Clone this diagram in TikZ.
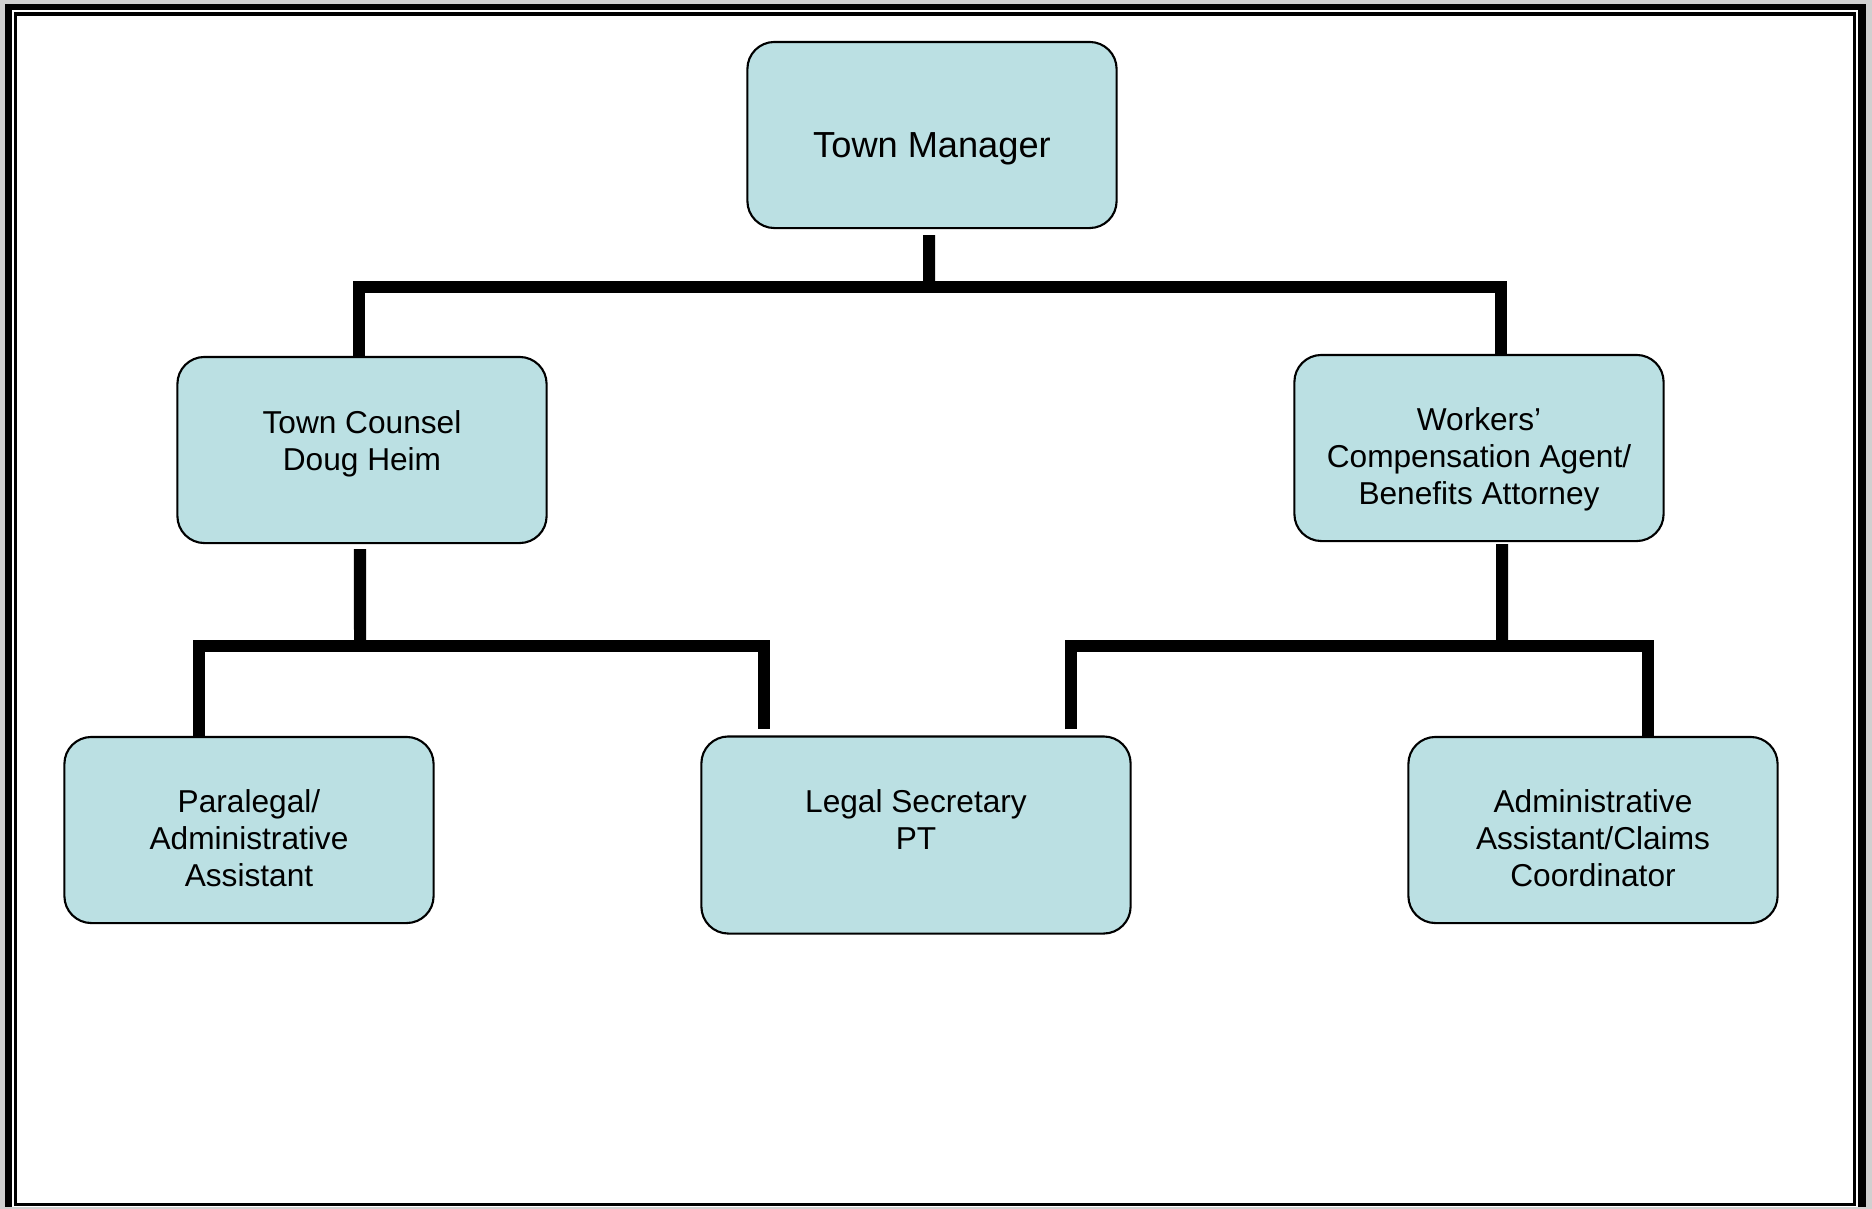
\documentclass[tikz,border=0pt]{standalone}
\usepackage{fontspec}
\setmainfont{Liberation Sans}
\usepackage{xcolor}
\definecolor{boxblue}{RGB}{187,224,227}
\definecolor{framegray}{RGB}{208,208,208}
% lines of a box, lowered a little without changing the box size
\newcommand{\boxlines}[2][0.12cm]{\raisebox{-#1}[\height][\depth]{\begin{tabular}{@{}c@{}}#2\end{tabular}}}

\begin{document}
\begin{tikzpicture}[x=0.01cm, y=-0.01cm]
        % ================= styles =================
        \tikzset{
            box/.style={rectangle, rounded corners=0.27cm, draw=black, line width=0.6pt, fill=boxblue,
                        minimum width=3.69cm, minimum height=1.86cm, inner sep=0pt,
                        font=\fontsize{9}{10.5}\selectfont},
            link/.style={line width=0.12cm, black, line join=miter}
        }
        \useasboundingbox (0,0) rectangle (1872,1209);

        % ================= frame =================
        \fill[framegray] (0,0) rectangle (1872,1209);
        \fill[black] (5,4) rectangle (1866,1207);
        \fill[white] (12,10) rectangle (1858,1207);
        \draw[line width=0.03cm] (15.5,14) rectangle (1854.5,1204.5);
        \fill[framegray] (0,1207) rectangle (1872,1209);

        % ================= boxes =================
        \node[box, font=\fontsize{10.3}{12}\selectfont] (tm) at (932,135) {\boxlines[0.14cm]{Town Manager}};  % top
        \node[box] (tc) at (362,450) {\boxlines[0.13cm]{Town Counsel\\Doug Heim\\\mbox{}}};                 % left
        \node[box] (wc) at (1479,448) {\boxlines{Workers’\\Compensation Agent/\\Benefits Attorney}};      % right
        \node[box] (pl) at (249,830) {\boxlines{Paralegal/\\Administrative\\Assistant}};
        \node[box, minimum width=4.29cm, minimum height=1.97cm] (ls) at (916,835) {\boxlines[0.07cm]{Legal Secretary\\PT\\\mbox{}}};
        \node[box] (aa) at (1593,830) {\boxlines{Administrative\\Assistant/Claims\\Coordinator}};

        % ================= links =================
        \coordinate (j1) at (929,287);
        \coordinate (j2) at (360,646);
        \coordinate (j3) at (1502,646);

        \draw[link] ([xshift=-0.03cm,yshift=-0.06cm]tm.south) -- (j1);
        \draw[link] ([xshift=-0.03cm]tc.north) |- (j1) -| ([xshift=0.22cm]wc.north);

        \draw[link] ([xshift=-0.02cm,yshift=-0.05cm]tc.south) -- (j2);
        \draw[link] ([xshift=-0.5cm]pl.north) |- (j2) -| ([xshift=-1.52cm,yshift=0.06cm]ls.north);

        \draw[link] ([xshift=0.23cm,yshift=-0.02cm]wc.south) -- (j3);
        \draw[link] ([xshift=1.55cm,yshift=0.06cm]ls.north) |- (j3) -| ([xshift=0.55cm]aa.north);

    \end{tikzpicture}
\end{document}
